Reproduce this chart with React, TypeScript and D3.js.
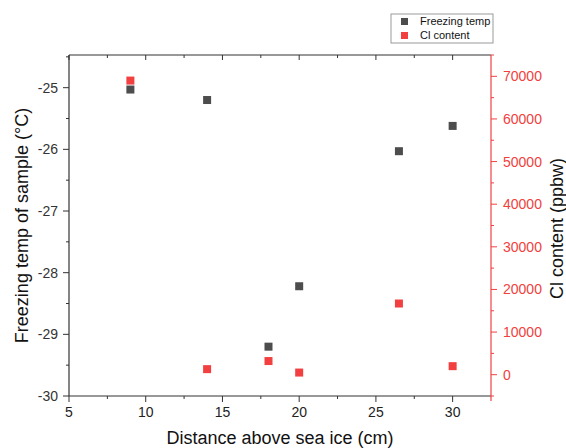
import React from "react";
import * as d3 from "d3";

const distances = [9, 14, 18, 20, 26.5, 30];
const freezingTemp = [-25.03, -25.2, -29.2, -28.22, -26.03, -25.62];
const clContent = [69000, 1300, 3200, 500, 16700, 2000];
const xTicks = [5, 10, 15, 20, 25, 30];
const yLeftTicks = [-30, -29, -28, -27, -26, -25];
const yRightTicks = [0, 10000, 20000, 30000, 40000, 50000, 60000, 70000];

const W = 566, H = 448;
const L = 69, R = 491, T = 55, B = 396;
const DARK = "#4d4d4d";
const RED = "#f24040";
const FONT = "Liberation Sans, Arial, sans-serif";

export default function App() {
  const x = d3.scaleLinear().domain([5, 32.5]).range([L, R]);
  const yL = d3.scaleLinear().domain([-30, -24.47]).range([B, T]);
  const yR = d3.scaleLinear().domain([-5000, 75000]).range([B, T]);
  const ms = 8;
  const xMinor = d3.range(7.5, 32.5, 5);
  const yLMinor = d3.range(-29.5, -24.4, 1);
  const yRMinor = d3.range(-5000, 75001, 10000);

  return (
    <svg width={W} height={H} style={{ position: "absolute", left: 0, top: 0 }} fontFamily={FONT}>
      <rect x={0} y={0} width={W} height={H} fill="#fff" />
      {/* frame */}
      <line x1={L} y1={T} x2={R} y2={T} stroke="#333" strokeWidth={1.2} />
      <line x1={L} y1={B} x2={R} y2={B} stroke="#333" strokeWidth={1.2} />
      <line x1={L} y1={T} x2={L} y2={B} stroke="#333" strokeWidth={1.2} />
      <line x1={R} y1={T} x2={R} y2={B + 5} stroke={RED} strokeWidth={1.2} />
      {/* bottom ticks */}
      {xTicks.map((t) => (
        <g key={"xt" + t}>
          <line x1={x(t)} x2={x(t)} y1={B} y2={B + 6} stroke="#333" />
          <line x1={x(t)} x2={x(t)} y1={T} y2={T + 5} stroke="#333" />
          <text x={x(t)} y={B + 21} textAnchor="middle" fontSize={14} fill="#222">{t}</text>
        </g>
      ))}
      {xMinor.map((t) => (
        <g key={"xm" + t}>
          <line x1={x(t)} x2={x(t)} y1={B} y2={B + 3} stroke="#333" />
          <line x1={x(t)} x2={x(t)} y1={T} y2={T + 3} stroke="#333" />
        </g>
      ))}
      {/* left ticks */}
      {yLeftTicks.map((t) => (
        <g key={"yl" + t}>
          <line x1={L - 6} x2={L} y1={yL(t)} y2={yL(t)} stroke="#333" />
          <text x={L - 11} y={yL(t) + 5} textAnchor="end" fontSize={14} fill="#333">{t}</text>
        </g>
      ))}
      {yLMinor.map((t) => (
        <line key={"ylm" + t} x1={L - 3} x2={L} y1={yL(t)} y2={yL(t)} stroke="#333" />
      ))}
      {/* right ticks */}
      {yRightTicks.map((t) => (
        <g key={"yr" + t}>
          <line x1={R} x2={R + 6} y1={yR(t)} y2={yR(t)} stroke={RED} />
          <text x={R + 12} y={yR(t) + 5} textAnchor="start" fontSize={14} fill={RED}>{t}</text>
        </g>
      ))}
      {yRMinor.map((t) => (
        <line key={"yrm" + t} x1={R} x2={R + 3} y1={yR(t)} y2={yR(t)} stroke={RED} />
      ))}
      {/* titles */}
      <text x={280} y={444} textAnchor="middle" fontSize={18} fill="#111">Distance above sea ice (cm)</text>
      <text transform={`translate(28,${(T + B) / 2}) rotate(-90)`} textAnchor="middle" fontSize={18} fill="#111">Freezing temp of sample (°C)</text>
      <text transform={`translate(563,${(T + B) / 2 + 3}) rotate(-90)`} textAnchor="middle" fontSize={18} fill="#111">Cl content (ppbw)</text>
      {/* data */}
      {distances.map((d, i) => (
        <rect key={"f" + i} x={x(d) - ms / 2} y={yL(freezingTemp[i]) - ms / 2} width={ms} height={ms} fill={DARK} />
      ))}
      {distances.map((d, i) => (
        <rect key={"c" + i} x={x(d) - ms / 2} y={yR(clContent[i]) - ms / 2} width={ms} height={ms} fill={RED} />
      ))}
      {/* legend */}
      <rect x={391} y={14} width={102} height={29} fill="#fff" stroke="#999" />
      <rect x={401} y={18} width={7} height={7} fill={DARK} />
      <text x={420} y={25} fontSize={11} fill="#111">Freezing temp</text>
      <rect x={401} y={32} width={7} height={7} fill={RED} />
      <text x={420} y={39} fontSize={11} fill="#111">Cl content</text>
    </svg>
  );
}
